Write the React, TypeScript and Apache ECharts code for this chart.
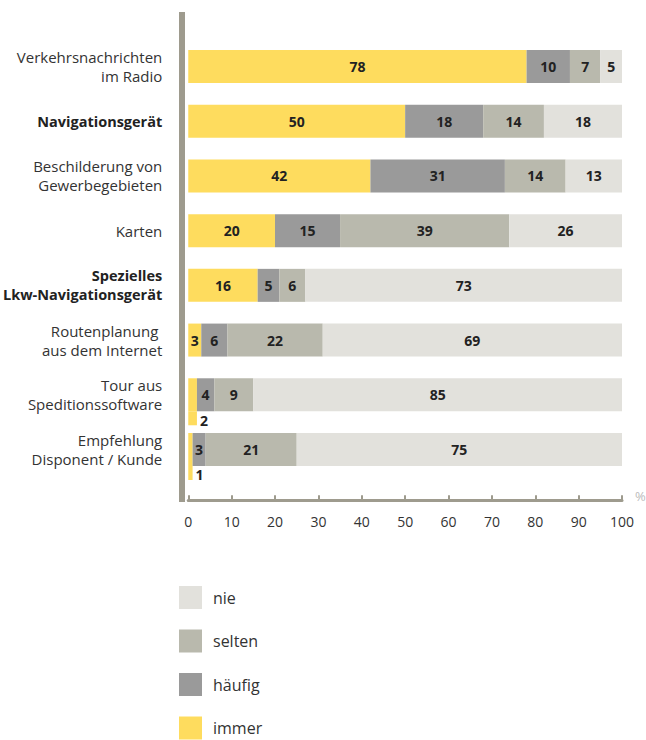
import React, { useEffect, useRef } from "react";
import * as echarts from "echarts";

const categories = [
  "Verkehrsnachrichten\nim Radio",
  "{b|Navigationsgerät}",
  "Beschilderung von\nGewerbegebieten",
  "Karten",
  "{b|Spezielles}\n{b|Lkw-Navigationsgerät}",
  "Routenplanung \naus dem Internet",
  "Tour aus\nSpeditionssoftware",
  "Empfehlung\nDisponent / Kunde",
];
const immer = [78, 50, 42, 20, 16, 3, 2, 1];
const haeufig = [10, 18, 31, 15, 5, 6, 4, 3];
const selten = [7, 14, 14, 39, 6, 22, 9, 21];
const nie = [5, 18, 13, 26, 73, 69, 85, 75];
const seriesNames = ["immer", "häufig", "selten", "nie"];
const legendOrder = ["nie", "selten", "häufig", "immer"];
const xTicks = [0, 10, 20, 30, 40, 50, 60, 70, 80, 90, 100];

const COLORS = ["#fedc5e", "#9a9a9a", "#b9b9ad", "#e2e1dc"];
const FONT = "Open Sans";
const BAR_H = 33;

export default function App() {
  const ref = useRef<HTMLDivElement>(null);
  useEffect(() => {
    if (!ref.current) return;
    document.body.style.margin = "0";
    document.body.style.overflow = "hidden";
    const chart = echarts.init(ref.current, null, { renderer: "svg" });
    const values = [immer, haeufig, selten, nie];
    const labelStyle = {
      show: true,
      position: "inside",
      fontFamily: FONT,
      fontWeight: "bold",
      fontSize: 14,
      color: "#222",
    };
    const barSeries = seriesNames.map((name, i) => ({
      name,
      type: "bar",
      stack: "total",
      barWidth: BAR_H,
      data: values[i],
      itemStyle: { color: COLORS[i] },
      label: {
        ...labelStyle,
        formatter: (p: any) => (i === 0 && p.value <= 2 ? "" : String(p.value)),
      },
      emphasis: { disabled: true },
    }));
    const smallData = immer
      .map((v, idx) => [v, idx])
      .filter((d) => d[0] <= 2);
    const extSeries = {
      type: "custom",
      name: "ext",
      data: smallData,
      encode: { x: 0, y: 1 },
      renderItem: (params: any, api: any) => {
        const v = api.value(0);
        const c = api.value(1);
        const p0 = api.coord([0, c]);
        const p1 = api.coord([v, c]);
        const y0 = p0[1] + BAR_H / 2;
        return {
          type: "group",
          children: [
            {
              type: "rect",
              shape: { x: p0[0], y: y0, width: p1[0] - p0[0], height: 14 },
              style: { fill: COLORS[0] },
            },
            {
              type: "text",
              x: p1[0] + 3,
              y: y0 + 9,
              style: {
                text: String(v),
                fontFamily: FONT,
                fontWeight: "bold",
                fontSize: 14,
                fill: "#222",
                verticalAlign: "middle",
                align: "left",
              },
            },
          ],
        };
      },
    };
    chart.setOption({
      animation: false,
      textStyle: { fontFamily: FONT },
      grid: { left: 184, right: 24, top: 39.15, height: 437.7 },
      xAxis: {
        type: "value",
        min: 0,
        max: 100,
        interval: 10,
        offset: 23.5,
        axisLine: { show: true, lineStyle: { color: "#9e9b8e", width: 3 } },
        axisTick: { show: true, inside: true, length: 5, lineStyle: { color: "#9e9b8e", width: 2 } },
        axisLabel: {
          margin: 14,
          fontSize: 14,
          color: "#333",
          fontFamily: FONT,
          formatter: (v: number) => (xTicks.includes(v) ? String(v) : ""),
        },
        splitLine: { show: false },
      },
      yAxis: {
        type: "category",
        inverse: true,
        data: categories,
        axisLine: { show: false },
        axisTick: { show: false },
        axisLabel: {
          margin: 26,
          fontSize: 15,
          color: "#333",
          fontFamily: FONT,
          lineHeight: 19,
          align: "right",
          rich: {
            b: { fontWeight: "bold", fontSize: 14.5, color: "#222", fontFamily: FONT, lineHeight: 19 },
          },
        },
      },
      legend: {
        data: legendOrder,
        orient: "vertical",
        left: 179,
        top: 586,
        itemWidth: 23,
        itemHeight: 23,
        itemGap: 20.5,
        icon: "rect",
        padding: 0,
        selectedMode: false,
        textStyle: { fontSize: 16, lineHeight: 16, color: "#333", fontFamily: FONT, padding: [0, 0, 0, 6] },
      },
      graphic: [
        {
          type: "line",
          shape: { x1: 182, y1: 12, x2: 182, y2: 502 },
          style: { stroke: "#9e9b8e", lineWidth: 6 },
          z: 10,
        },
        {
          type: "text",
          x: 635,
          y: 489,
          style: { text: "%", fontSize: 13, fill: "#bbb", fontFamily: FONT },
        },
      ],
      series: [...barSeries, extSeries],
    });
    return () => chart.dispose();
  }, []);
  return <div ref={ref} style={{ width: 646, height: 780 }} />;
}
